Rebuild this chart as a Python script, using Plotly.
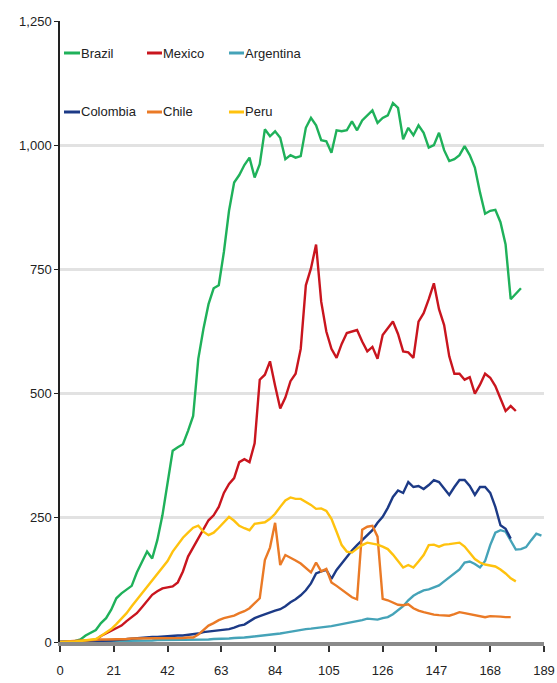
import plotly.graph_objects as go

# ---- data: values read every 2 days (day 0, 2, 4, ...) ----
tick_days = [0, 21, 42, 63, 84, 105, 126, 147, 168, 189]
y_ticks = [0, 250, 500, 750, 1000, 1250]

countries = ["Brazil", "Mexico", "Argentina", "Colombia", "Chile", "Peru"]

brazil = [0, 0, 1, 2, 5, 13, 18, 24, 38, 48, 65, 88, 98, 105, 113, 140, 160, 182, 168, 205,
          255, 322, 385, 392, 398, 425, 455, 570, 630, 680, 712, 718, 785, 868, 925, 940, 960, 975,
          935, 962, 1032, 1018, 1028, 1015, 972, 980, 975, 978, 1035, 1055, 1040, 1010, 1008, 985,
          1030, 1028, 1030, 1048, 1030, 1050, 1060, 1070, 1045, 1055, 1060, 1085, 1075, 1012, 1035,
          1020, 1040, 1025, 995, 1000, 1025, 990, 968, 972, 980, 998, 980, 955, 905, 862, 868, 870,
          845, 800, 690, 700, 712]

mexico = [0, 0, 0, 0, 1, 2, 3, 4, 12, 17, 22, 28, 33, 42, 50, 58, 70, 82, 95, 102,
          108, 110, 112, 120, 142, 172, 190, 207, 225, 245, 255, 272, 300, 318, 330, 362, 368, 362,
          400, 528, 538, 565, 516, 470, 492, 525, 540, 590, 718, 752, 800, 685, 625, 590, 572, 600,
          622, 625, 628, 605, 585, 594, 570, 618, 632, 645, 620, 585, 583, 572, 645, 662, 690, 722,
          670, 638, 575, 540, 540, 528, 533, 500, 518, 540, 532, 515, 490, 465, 475, 465]

argentina = [0, 0, 0, 0, 0, 0, 1, 1, 1, 1, 2, 2, 2, 2, 3, 3, 3, 3, 3, 4,
             4, 4, 4, 4, 5, 5, 5, 5, 5, 5, 6, 6, 7, 7, 8, 8, 9, 10, 11, 12,
             13, 14, 15, 17, 19, 21, 23, 24, 26, 27, 28, 30, 31, 32, 34, 36, 37, 39, 41, 44,
             47, 46, 45, 48, 50, 56, 64, 72, 84, 93, 99, 104, 106, 110, 114, 122, 130, 138, 146, 160,
             162, 157, 150, 163, 195, 220, 225, 222, 205, 186, 187, 191, 205, 218, 214]

colombia = [0, 0, 0, 0, 0, 1, 1, 2, 2, 3, 3, 4, 5, 5, 6, 7, 8, 9, 10, 10,
            11, 12, 12, 13, 13, 14, 15, 17, 20, 21, 22, 24, 25, 26, 29, 33, 35, 42, 48, 52,
            56, 60, 63, 66, 72, 80, 86, 94, 104, 118, 138, 142, 145, 127, 145, 158, 172, 184, 195, 205,
            215, 225, 240, 252, 270, 292, 305, 300, 322, 312, 314, 308, 316, 326, 322, 310, 296, 312, 326, 326,
            314, 296, 312, 312, 300, 272, 235, 228, 208]

chile = [0, 1, 2, 2, 3, 3, 4, 4, 5, 5, 5, 6, 6, 6, 7, 7, 7, 8, 8, 8,
         8, 7, 8, 8, 8, 9, 9, 15, 24, 33, 38, 44, 48, 50, 53, 58, 62, 68, 78, 88,
         165, 190, 240, 155, 175, 170, 164, 158, 148, 140, 160, 142, 147, 120, 113, 105, 97, 90, 86, 226,
         232, 234, 212, 87, 84, 80, 75, 74, 76, 68, 63, 60, 57, 55, 54, 53, 53, 56, 60, 58,
         56, 54, 51, 50, 52, 52, 51, 50, 50]

peru = [0, 0, 0, 1, 2, 3, 4, 6, 12, 19, 26, 36, 46, 58, 72, 85, 98, 110, 124, 137,
        150, 163, 182, 196, 210, 220, 230, 234, 222, 215, 220, 230, 240, 252, 244, 234, 229, 225, 238, 240,
        241, 248, 258, 272, 285, 291, 288, 288, 282, 276, 268, 269, 264, 248, 222, 195, 182, 180, 188, 195,
        200, 198, 196, 192, 187, 176, 162, 150, 155, 150, 162, 175, 195, 196, 192, 196, 197, 199, 200, 192,
        180, 167, 160, 156, 154, 152, 146, 138, 128, 122]

series = [brazil, mexico, argentina, colombia, chile, peru]
colors = ["#1fb15a", "#c9151e", "#45a3b8", "#1c3a86", "#ea7a26", "#ffc20e"]

# ---- geometry ----
W, H = 557, 683
ML, MR, MT, MB = 60, 13, 21, 41
PW, PH = W - ML - MR, H - MT - MB

FONT = "Liberation Sans, Arial, sans-serif"
FS = 13

fig = go.Figure()
for name, vals, col in zip(countries, series, colors):
    days = list(range(0, 2 * len(vals), 2))
    fig.add_trace(go.Scatter(x=days, y=vals, mode="lines", name=name,
                             line=dict(color=col, width=2.4), showlegend=False))

# ---- custom legend (short line + label) ----
def px_to_paper(px, py):
    return (px - ML) / PW, 1 - (py - MT) / PH

legend_rows = [53, 112]
legend_cols = [(64, 80), (147, 162), (229, 244)]
shapes, annotations = [], []
for i, (name, col) in enumerate(zip(countries, colors)):
    r, c = divmod(i, 3)
    x0, x1 = legend_cols[c]
    yy = legend_rows[r]
    a0, b0 = px_to_paper(x0, yy)
    a1, _ = px_to_paper(x1, yy)
    shapes.append(dict(type="line", xref="paper", yref="paper", x0=a0, x1=a1, y0=b0, y1=b0,
                       line=dict(color=col, width=3)))
    at, _ = px_to_paper(x1 - 1, yy)
    annotations.append(dict(text=name, xref="paper", yref="paper", x=at, y=b0,
                            xanchor="left", yanchor="middle", showarrow=False,
                            font=dict(family=FONT, size=FS, color="#222")))

fig.update_layout(
    width=W, height=H,
    margin=dict(l=ML, r=MR, t=MT, b=MB),
    plot_bgcolor="white", paper_bgcolor="white",
    shapes=shapes, annotations=annotations,
    font=dict(family=FONT, size=FS, color="#222"),
    xaxis=dict(range=[0, 189], tickvals=tick_days, ticktext=[str(t) for t in tick_days],
               showgrid=False, zeroline=False, showline=True, linecolor="#8a8a8a", linewidth=4,
               ticks="outside", ticklen=6, tickwidth=1.5, tickcolor="#333",
               ticklabelstandoff=7, automargin=False,
               tickfont=dict(family=FONT, size=FS, color="#222")),
    yaxis=dict(range=[0, 1250], tickvals=y_ticks, tickformat=",", automargin=False,
               showgrid=True, gridcolor="#e2e2e2", gridwidth=3, zeroline=False,
               showline=True, linecolor="#222", linewidth=1.5,
               ticks="outside", ticklen=4, tickwidth=1.2, tickcolor="#222",
               tickfont=dict(family=FONT, size=FS, color="#222")),
)

fig.write_html("out.html", config={"displayModeBar": False},
               post_script="document.body.style.margin='0';document.body.style.overflow='hidden';")
